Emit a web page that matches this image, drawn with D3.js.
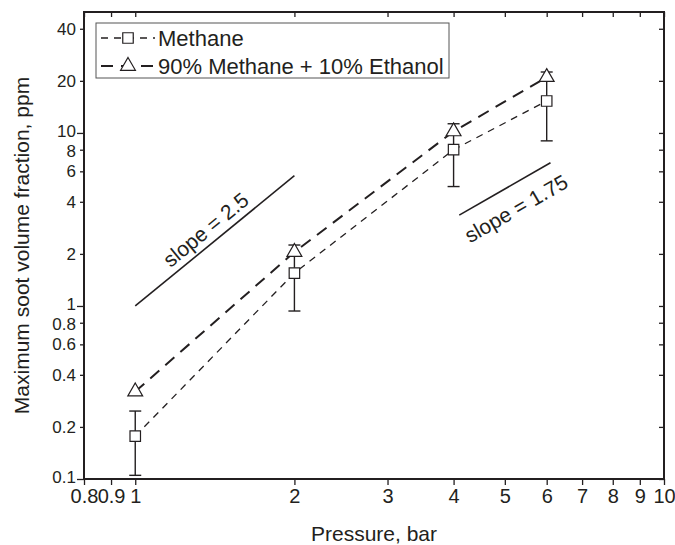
<!DOCTYPE html>
<html>
<head>
<meta charset="utf-8">
<script src="https://cdn.jsdelivr.net/npm/d3@7"></script>
<style>
  body { margin: 0; background: #fff; }
  text { font-family: "Liberation Sans", Arial, sans-serif; fill: #231f20; }
</style>
</head>
<body>
<svg id="canvas"></svg>
<script>
// data
let pressures = [1, 2, 4, 6]
let methane = [0.177, 1.55, 8.0, 15.3]
let methaneLow = [0.105, 0.935, 4.9, 9.0]
let methaneHigh = [0.247, 2.25, 11.3, 22.5]
let blend = [0.32, 2.05, 10.2, 21]
let seriesNames = ['Methane', '90% Methane + 10% Ethanol']

// reference slope lines [x0, y0, x1, y1]
let slope25 = [1, 1, 2, 5.66]
let slope175 = [4.1, 3.35, 6.1, 6.72]
let slopeLabels = ['slope = 2.5', 'slope = 1.75']

let xTicks = [0.8, 0.9, 1, 2, 3, 4, 5, 6, 7, 8, 9, 10]
let yTicks = [0.1, 0.2, 0.4, 0.6, 0.8, 1, 2, 4, 6, 8, 10, 20, 40]
let yMajor = [0.1, 1, 10]
let yTight = [0.8, 8]

let width = 675
let height = 545
let ink = '#231f20'
let m = {left: 84, right: 664, top: 12, bottom: 479}

let svg = d3.select('#canvas').attr('width', width).attr('height', height)

let x = d3.scaleLog().domain([0.8, 10]).range([m.left, m.right])
let y = d3.scaleLog().domain([0.1, 50]).range([m.bottom, m.top])

let fmt = d => String(d)

// axes
let bottomAxis = d3.axisBottom(x).tickValues(xTicks).tickFormat(fmt).tickSize(6).tickPadding(4)
let topAxis = d3.axisBottom(x).tickValues(xTicks).tickFormat('').tickSize(5)
let leftAxis = d3.axisLeft(y).tickValues(yTicks).tickFormat(fmt).tickSize(4).tickPadding(4)
let rightAxis = d3.axisLeft(y).tickValues(yTicks).tickFormat('').tickSize(5)

let styleAxis = (g, size) => {
    g.select('.domain').remove()
    g.selectAll('line').attr('stroke', ink).attr('stroke-width', 1.3)
    g.selectAll('text').style('font-size', size + 'px').attr('fill', ink)
}

svg.append('g').attr('transform', `translate(0,${m.bottom})`).call(bottomAxis).call(styleAxis, 20)
svg.append('g').attr('transform', `translate(0,${m.top})`).call(topAxis).call(styleAxis, 20)
let ly = svg.append('g').attr('transform', `translate(${m.left},0)`).call(leftAxis).call(styleAxis, 17)
ly.selectAll('.tick line').attr('x2', d => yMajor.includes(d) ? -7 : -4)
// labels 1/0.8 and 10/8 sit close together, nudge them apart a little
ly.selectAll('.tick text')
    .attr('y', d => yMajor.includes(d) ? -2 : yTight.includes(d) ? 1.5 : 0)
svg.append('g').attr('transform', `translate(${m.right},0)`).call(rightAxis).call(styleAxis, 20)

svg.append('rect')
    .attr('x', m.left).attr('y', m.top)
    .attr('width', m.right - m.left).attr('height', m.bottom - m.top)
    .attr('fill', 'none').attr('stroke', ink).attr('stroke-width', 2)

// titles
svg.append('text')
    .attr('x', (m.left + m.right) / 2).attr('y', 541)
    .attr('text-anchor', 'middle').style('font-size', '21px')
    .text('Pressure, bar')
svg.append('text')
    .attr('transform', `translate(29,${(m.top + m.bottom) / 2}) rotate(-90)`)
    .attr('text-anchor', 'middle').style('font-size', '21px')
    .text('Maximum soot volume fraction, ppm')

// series lines
let line = d3.line().x(d => x(d[0])).y(d => y(d[1]))
svg.append('path')
    .attr('d', line(pressures.map((p, i) => [p, methane[i]])))
    .attr('fill', 'none').attr('stroke', ink).attr('stroke-width', 1.3)
    .attr('stroke-dasharray', '7,6')
svg.append('path')
    .attr('d', line(pressures.map((p, i) => [p, blend[i]])))
    .attr('fill', 'none').attr('stroke', ink).attr('stroke-width', 2)
    .attr('stroke-dasharray', '12,8')

// error bars
let eb = svg.append('g').attr('stroke', ink).attr('stroke-width', 1.4)
pressures.forEach((p, i) => {
    eb.append('line').attr('x1', x(p)).attr('x2', x(p)).attr('y1', y(methaneLow[i])).attr('y2', y(methaneHigh[i]))
    eb.append('line').attr('x1', x(p) - 6).attr('x2', x(p) + 6).attr('y1', y(methaneLow[i])).attr('y2', y(methaneLow[i]))
    eb.append('line').attr('x1', x(p) - 6).attr('x2', x(p) + 6).attr('y1', y(methaneHigh[i])).attr('y2', y(methaneHigh[i]))
})

// markers
let square = d3.symbol().type(d3.symbolSquare).size(110)
let triangle = d3.symbol().type(d3.symbolTriangle).size(95)
svg.selectAll('.sq').data(pressures).enter().append('path')
    .attr('class', 'sq')
    .attr('d', square)
    .attr('transform', (d, i) => `translate(${x(d)},${y(methane[i])})`)
    .attr('fill', '#fff').attr('stroke', ink).attr('stroke-width', 1.2)
svg.selectAll('.tri').data(pressures).enter().append('path')
    .attr('class', 'tri')
    .attr('d', triangle)
    .attr('transform', (d, i) => `translate(${x(d)},${y(blend[i])})`)
    .attr('fill', '#fff').attr('stroke', ink).attr('stroke-width', 1.2)

// slope reference lines
let drawSlope = (s, label, dy) => {
    let x0 = x(s[0]), y0 = y(s[1]), x1 = x(s[2]), y1 = y(s[3])
    svg.append('line').attr('x1', x0).attr('y1', y0).attr('x2', x1).attr('y2', y1)
        .attr('stroke', ink).attr('stroke-width', 1.6)
    let ang = Math.atan2(y1 - y0, x1 - x0) * 180 / Math.PI
    let cx = (x0 + x1) / 2, cy = (y0 + y1) / 2
    svg.append('text')
        .attr('transform', `translate(${cx},${cy}) rotate(${ang}) translate(0,${dy})`)
        .attr('text-anchor', 'middle').style('font-size', '21px')
        .text(label)
}
drawSlope(slope25, slopeLabels[0], -7)
drawSlope(slope175, slopeLabels[1], 30)

// legend
let legend = svg.append('g')
legend.append('rect')
    .attr('x', 96).attr('y', 23).attr('width', 353).attr('height', 55)
    .attr('fill', '#fff').attr('stroke', '#555').attr('stroke-width', 1)
let rows = [38, 66]
legend.append('line').attr('x1', 101).attr('x2', 155).attr('y1', rows[0]).attr('y2', rows[0])
    .attr('stroke', ink).attr('stroke-width', 1.3).attr('stroke-dasharray', '7,6')
legend.append('line').attr('x1', 101).attr('x2', 155).attr('y1', rows[1]).attr('y2', rows[1])
    .attr('stroke', ink).attr('stroke-width', 2).attr('stroke-dasharray', '12,8')
legend.append('path').attr('d', square).attr('transform', `translate(128,${rows[0]})`)
    .attr('fill', '#fff').attr('stroke', ink).attr('stroke-width', 1.2)
legend.append('path').attr('d', triangle).attr('transform', `translate(128,${rows[1]})`)
    .attr('fill', '#fff').attr('stroke', ink).attr('stroke-width', 1.2)
seriesNames.forEach((n, i) => {
    legend.append('text').attr('x', 158).attr('y', rows[i] + 8).style('font-size', '22px').text(n)
})
</script>
</body>
</html>
